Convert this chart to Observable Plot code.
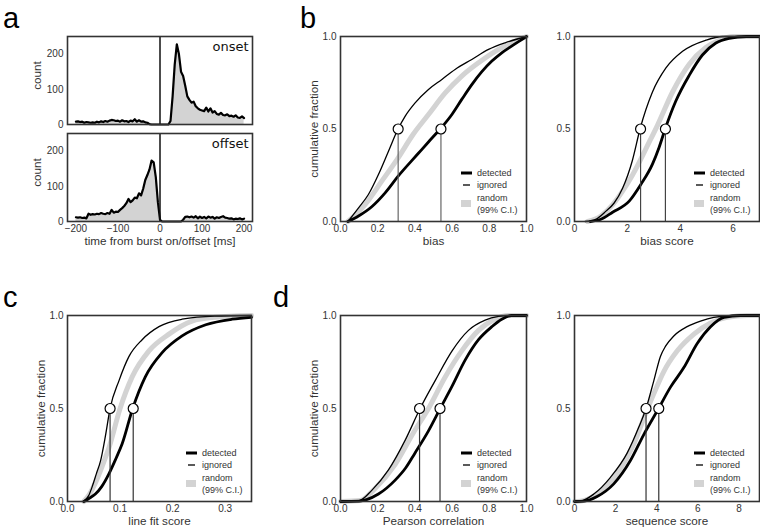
<!DOCTYPE html>
<html><head><meta charset="utf-8">
<script src="https://cdn.jsdelivr.net/npm/d3@7"></script>
<script src="https://cdn.jsdelivr.net/npm/@observablehq/plot@0.6"></script>
<style>
body{margin:0;background:#fff;}
#root{position:relative;width:760px;height:528px;overflow:hidden;font-family:"Liberation Sans",Arial,sans-serif;}
.panel{position:absolute;}
.panel svg{display:block;overflow:visible;max-width:none !important;}
.letter{position:absolute;font-size:29px;font-family:"Liberation Sans",Arial,sans-serif;color:#000;line-height:1;}
</style></head><body><div id="root"></div>
<script>
// ---------- Data ----------
const histTime = [-200,-195,-190,-185,-180,-175,-170,-165,-160,-155,-150,-145,-140,-135,-130,-125,-120,-115,-110,-105,-100,-95,-90,-85,-80,-75,-70,-65,-60,-55,-50,-45,-40,-35,-30,-25,-20,-15,-10,-5,0,5,10,15,20,25,30,35,40,45,50,55,60,65,70,75,80,85,90,95,100,105,110,115,120,125,130,135,140,145,150,155,160,165,170,175,180,185,190,195,200];
const onsetCounts = [8,9,7,8,5,7,6,5,6,5,8,6,9,7,10,8,11,13,12,10,11,8,12,9,10,7,11,9,15,8,12,8,9,6,5,1,0,0,0,0,0,0,0,0,0,10,80,170,228,200,150,138,110,80,70,62,65,52,46,42,40,38,48,37,46,34,38,30,28,33,27,26,29,24,25,22,26,20,19,23,18];
const offsetCounts = [12,11,12,10,11,9,22,19,21,20,22,21,24,22,21,24,22,33,25,28,27,33,38,44,52,64,55,60,68,66,80,74,93,118,132,148,173,168,126,55,5,0,0,0,0,0,0,0,0,0,0,5,13,14,12,14,11,15,9,14,10,13,9,14,11,13,8,12,10,13,15,11,10,8,9,6,8,7,9,6,8];
const histTicks = [-200,-100,0,100,200];
const countTicks = [0,100,200];

const seriesNames = ["detected","ignored","random","(99% C.I.)"];

// bias
const biasDetected = [[0.04,0],[0.097,0.03],[0.168,0.08],[0.24,0.155],[0.31,0.245],[0.42,0.37],[0.473,0.43],[0.536,0.5],[0.60,0.58],[0.652,0.66],[0.706,0.74],[0.76,0.81],[0.814,0.867],[0.867,0.912],[0.92,0.948],[0.966,0.978],[1.0,1.0]];
const biasIgnored = [[0.04,0],[0.097,0.074],[0.15,0.146],[0.204,0.254],[0.258,0.38],[0.308,0.497],[0.348,0.57],[0.40,0.64],[0.473,0.714],[0.545,0.768],[0.616,0.822],[0.706,0.876],[0.796,0.93],[0.885,0.966],[1.0,1.0]];
const biasRandom = [[0.04,0],[0.133,0.092],[0.222,0.218],[0.31,0.344],[0.39,0.47],[0.473,0.578],[0.563,0.695],[0.652,0.786],[0.742,0.858],[0.832,0.92],[0.92,0.966],[1.0,1.0]];
const biasMedians = [0.31, 0.54];
const biasTicks = [0,0.2,0.4,0.6,0.8,1.0];

// bias score
const biasScoreDetected = [[0.6,0],[1.0,0.012],[1.44,0.05],[2.07,0.11],[2.51,0.2],[2.95,0.31],[3.2,0.4],[3.43,0.5],[3.83,0.65],[4.34,0.79],[4.84,0.9],[5.35,0.965],[5.85,0.99],[6.5,1],[7,1]];
const biasScoreIgnored = [[0.4,0],[0.8,0.012],[1.19,0.056],[1.5,0.1],[1.82,0.18],[2.19,0.33],[2.48,0.5],[2.95,0.7],[3.46,0.83],[4.09,0.92],[4.97,0.98],[5.6,1],[7,1]];
const biasScoreRandom = [[0.5,0],[1.0,0.03],[1.44,0.09],[1.8,0.16],[2.19,0.25],[2.83,0.43],[3.14,0.52],[3.71,0.70],[4.34,0.85],[4.97,0.94],[5.47,0.98],[6.0,1],[7,1]];
const biasScoreMedians = [2.5, 3.44];
const biasScoreTicks = [0,2,4,6];

// line fit score
const lineFitDetected = [[0.031,0],[0.04,0.015],[0.053,0.04],[0.065,0.08],[0.079,0.15],[0.092,0.23],[0.104,0.31],[0.124,0.5],[0.148,0.67],[0.18,0.80],[0.218,0.89],[0.263,0.95],[0.313,0.98],[0.35,0.99]];
const lineFitIgnored = [[0.03,0],[0.04,0.03],[0.047,0.08],[0.055,0.15],[0.063,0.22],[0.072,0.35],[0.081,0.5],[0.098,0.65],[0.117,0.78],[0.142,0.87],[0.174,0.94],[0.218,0.98],[0.28,0.997],[0.35,1]];
const lineFitRandom = [[0.031,0],[0.042,0.04],[0.053,0.10],[0.066,0.19],[0.079,0.29],[0.1,0.5],[0.123,0.67],[0.155,0.81],[0.193,0.90],[0.237,0.97],[0.28,0.99],[0.35,1]];
const lineFitMedians = [0.081, 0.125];
const lineFitTicks = [0,0.1,0.2,0.3];

// pearson correlation
const pearsonDetected = [[0,0],[0.1,0.002],[0.14,0.01],[0.204,0.04],[0.294,0.115],[0.35,0.18],[0.40,0.26],[0.473,0.38],[0.536,0.5],[0.60,0.62],[0.67,0.76],[0.742,0.87],[0.814,0.94],[0.867,0.98],[0.92,1.0],[1.0,1.0]];
const pearsonIgnored = [[0,0],[0.1,0.005],[0.168,0.06],[0.258,0.17],[0.348,0.33],[0.428,0.5],[0.509,0.65],[0.60,0.81],[0.688,0.92],[0.778,0.975],[0.85,0.995],[0.9,1],[1,1]];
const pearsonRandom = [[0,0],[0.106,0.005],[0.186,0.07],[0.294,0.20],[0.392,0.37],[0.473,0.5],[0.563,0.67],[0.652,0.81],[0.742,0.92],[0.83,0.98],[0.90,1],[1,1]];
const pearsonMedians = [0.425, 0.535];

// sequence score
const sequenceDetected = [[0,0],[0.45,0.002],[1.1,0.027],[1.91,0.095],[2.72,0.22],[3.37,0.36],[4.09,0.5],[4.67,0.615],[5.32,0.72],[5.97,0.85],[6.62,0.94],[7.27,0.99],[8.08,1.0],[9,1]];
const sequenceIgnored = [[0,0],[0.3,0.002],[0.94,0.04],[1.75,0.13],[2.56,0.26],[3.13,0.40],[3.48,0.5],[3.86,0.65],[4.18,0.78],[4.43,0.835],[4.83,0.89],[5.48,0.94],[6.13,0.97],[6.78,0.99],[7.75,1],[9,1]];
const sequenceRandom = [[0,0],[0.29,0.002],[1.1,0.04],[2.08,0.15],[2.89,0.31],[3.45,0.47],[3.86,0.58],[4.35,0.70],[5.0,0.81],[5.81,0.90],[6.62,0.96],[7.43,0.99],[8.4,1],[9,1]];
const sequenceMedians = [3.48, 4.1];
const sequenceTicks = [0,2,4,6,8];

const unitTicks = [0,0.5,1.0];

// ---------- Helpers ----------
const root = document.getElementById("root");
const TXT = "#333";
const FONT = "Liberation Sans, Arial, sans-serif";

function place(el, left, top, w, h) {
  const d = document.createElement("div");
  d.className = "panel";
  d.style.left = left + "px";
  d.style.top = top + "px";
  d.style.width = w + "px";
  d.style.height = h + "px";
  d.appendChild(el);
  root.appendChild(d);
}
function letter(t, x, y) {
  const d = document.createElement("div");
  d.className = "letter";
  d.textContent = t;
  d.style.left = x + "px";
  d.style.top = y + "px";
  root.appendChild(d);
}

function legendMark() {
  return (index, scales, values, dims) => {
    const R = dims.width - dims.marginRight, B = dims.height - dims.marginBottom;
    const g = d3.create("svg:g");
    g.append("line").attr("x1", R-65).attr("x2", R-54).attr("y1", B-48).attr("y2", B-48).attr("stroke", "#000").attr("stroke-width", 3);
    g.append("line").attr("x1", R-63).attr("x2", R-56).attr("y1", B-36).attr("y2", B-36).attr("stroke", "#000").attr("stroke-width", 1.3);
    g.append("rect").attr("x", R-65).attr("y", B-21).attr("width", 10).attr("height", 7).attr("fill", "#d3d3d3");
    const lab = [[seriesNames[0], B-48], [seriesNames[1], B-36], [seriesNames[2], B-23], [seriesNames[3], B-11]];
    for (const [t, y] of lab) {
      g.append("text").attr("x", R-49).attr("y", y).attr("dy", "0.35em").attr("fill", TXT)
        .attr("text-anchor", "start").attr("font-size", 9).attr("font-family", FONT).text(t);
    }
    return g.node();
  };
}

function cdfPanel(o) {
  const mL = 46, mT = 6, mR = 14, mB = 32;
  const fw = o.fr - o.fl, fh = o.fb - o.ft;
  const toObj = a => a.map(([x, y]) => ({x, y}));
  const marks = [
    Plot.line(toObj(o.rnd), {x: "x", y: "y", stroke: "#d3d3d3", strokeWidth: 5, curve: "monotone-x"}),
    Plot.line(toObj(o.ign), {x: "x", y: "y", stroke: "#000", strokeWidth: 1.3, curve: "monotone-x"}),
    Plot.line(toObj(o.det), {x: "x", y: "y", stroke: "#000", strokeWidth: 2.8, curve: "monotone-x"}),
    Plot.ruleX(o.med, {x: d => d, y1: 0, y2: 0.5, stroke: o.ruleColor, strokeWidth: 1.2}),
    Plot.dot(o.med, {x: d => d, y: () => 0.5, r: 5, fill: "#fff", stroke: "#000", strokeWidth: 1.2}),
    Plot.axisX({ticks: o.xTicks, tickFormat: o.xFmt, tickSize: 0, tickPadding: 3, label: null, fontSize: 10, fill: TXT}),
    Plot.axisY({ticks: unitTicks, tickFormat: ".1f", tickSize: 0, tickPadding: 4, label: null, fontSize: 10, fill: TXT}),
    Plot.text([o.xLabel], {frameAnchor: "bottom", lineAnchor: "middle", textAnchor: "middle", dy: 20, fontSize: 11.7, fill: TXT, text: d => d}),
    Plot.frame({stroke: "#333", strokeWidth: 1.6}),
    legendMark()
  ];
  if (o.yLabel) marks.push(Plot.text([o.yLabel], {frameAnchor: "left", lineAnchor: "middle", textAnchor: "middle", rotate: -90, dx: -26, fontSize: 11.7, fill: TXT, text: d => d}));
  const W = fw + mL + mR, H = fh + mT + mB;
  const p = Plot.plot({
    width: W, height: H,
    marginLeft: mL, marginTop: mT, marginRight: mR, marginBottom: mB,
    style: {fontFamily: FONT, background: "transparent", overflow: "visible"},
    x: {domain: o.xDomain},
    y: {domain: [0, 1]},
    marks
  });
  place(p, o.fl - mL, o.ft - mT, W, H);
}

function histPanel(o) {
  const mL = 46, mT = 4, mR = 14, mB = o.showX ? 32 : 4;
  const fw = o.fr - o.fl, fh = o.fb - o.ft;
  const data = histTime.map((t, i) => ({t, c: o.counts[i]}));
  const marks = [
    Plot.areaY(data, {x: "t", y: "c", fill: "#d3d3d3"}),
    Plot.lineY(data, {x: "t", y: "c", stroke: "#000", strokeWidth: 2.2, strokeLinejoin: "round"}),
    Plot.ruleX([0], {stroke: "#111", strokeWidth: 1.5}),
    Plot.axisY({ticks: countTicks, tickSize: 0, tickPadding: 4, label: null, fontSize: 10, fill: TXT}),
    Plot.text(["count"], {frameAnchor: "left", lineAnchor: "middle", textAnchor: "middle", rotate: -90, dx: -30, dy: -5, fontSize: 11.7, fill: TXT, text: d => d}),
    Plot.text([o.name], {frameAnchor: "top-right", lineAnchor: "middle", textAnchor: "end", dx: -4, dy: 10, fontSize: 13, fontFamily: "DejaVu Sans", fill: "#111", text: d => d}),
    Plot.frame({stroke: "#333", strokeWidth: 1.6})
  ];
  if (o.showX) {
    marks.push(Plot.axisX({ticks: histTicks, tickSize: 0, tickPadding: 3, label: null, fontSize: 10, fill: TXT}));
    marks.push(Plot.text(["time from burst on/offset [ms]"], {frameAnchor: "bottom", lineAnchor: "middle", textAnchor: "middle", dy: 20, fontSize: 11.7, fill: TXT, text: d => d}));
  } else {
    marks.push(Plot.axisX({ticks: [], label: null}));
  }
  const W = fw + mL + mR, H = fh + mT + mB;
  const p = Plot.plot({
    width: W, height: H,
    marginLeft: mL, marginTop: mT, marginRight: mR, marginBottom: mB,
    style: {fontFamily: FONT, background: "transparent", overflow: "visible"},
    x: {domain: [-220, 220]},
    y: {domain: [0, 250]},
    marks
  });
  place(p, o.fl - mL, o.ft - mT, W, H);
}

// ---------- Panels ----------
histPanel({fl: 67, fr: 252, ft: 36, fb: 124, counts: onsetCounts, name: "onset", showX: false});
histPanel({fl: 67, fr: 252, ft: 133, fb: 221, counts: offsetCounts, name: "offset", showX: true});

cdfPanel({fl: 340, fr: 526, ft: 36, fb: 221, xDomain: [0, 1], xTicks: biasTicks, xFmt: ".1f", xLabel: "bias", yLabel: "cumulative fraction",
  det: biasDetected, ign: biasIgnored, rnd: biasRandom, med: biasMedians, ruleColor: "#666"});
cdfPanel({fl: 574, fr: 759, ft: 36, fb: 221, xDomain: [0, 7], xTicks: biasScoreTicks, xFmt: "d", xLabel: "bias score", yLabel: null,
  det: biasScoreDetected, ign: biasScoreIgnored, rnd: biasScoreRandom, med: biasScoreMedians, ruleColor: "#444"});
cdfPanel({fl: 67, fr: 251, ft: 315, fb: 501, xDomain: [0, 0.35], xTicks: lineFitTicks, xFmt: ".1f", xLabel: "line fit score", yLabel: "cumulative fraction",
  det: lineFitDetected, ign: lineFitIgnored, rnd: lineFitRandom, med: lineFitMedians, ruleColor: "#333"});
cdfPanel({fl: 340, fr: 526, ft: 315, fb: 501, xDomain: [0, 1], xTicks: biasTicks, xFmt: ".1f", xLabel: "Pearson correlation", yLabel: "cumulative fraction",
  det: pearsonDetected, ign: pearsonIgnored, rnd: pearsonRandom, med: pearsonMedians, ruleColor: "#333"});
cdfPanel({fl: 574, fr: 759, ft: 315, fb: 501, xDomain: [0, 9], xTicks: sequenceTicks, xFmt: "d", xLabel: "sequence score", yLabel: null,
  det: sequenceDetected, ign: sequenceIgnored, rnd: sequenceRandom, med: sequenceMedians, ruleColor: "#333"});

letter("a", 3, 4);
letter("b", 300, 4);
letter("c", 3, 283);
letter("d", 273, 283);
</script>
</body></html>
